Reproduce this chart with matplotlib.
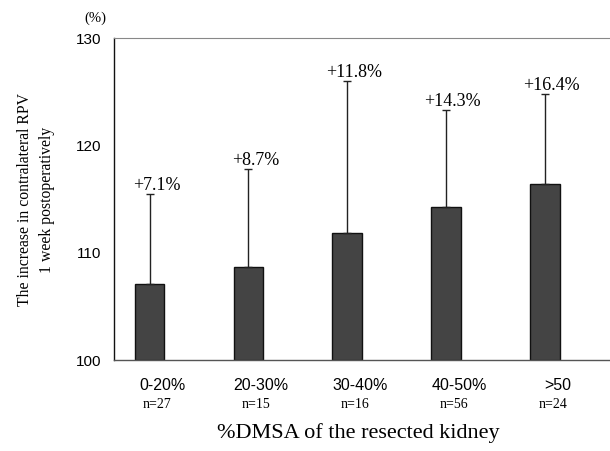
import matplotlib
matplotlib.use("Agg")
import matplotlib.pyplot as plt
from matplotlib.transforms import offset_copy
import numpy as np

categories = ["0-20%", "20-30%", "30-40%", "40-50%", ">50"]
n_labels = ["n=27", "n=15", "n=16", "n=56", "n=24"]
values = [107.1, 108.7, 111.8, 114.3, 116.4]
err_up = [8.4, 9.1, 14.2, 9.0, 8.4]
pct_labels = ["+7.1%", "+8.7%", "+11.8%", "+14.3%", "+16.4%"]
yticks = [100, 110, 120, 130]

fig = plt.figure(figsize=(6.1, 4.51), dpi=100)
ax = fig.add_axes([114/610, 1-360/451, (610-114)/610, (360-38)/451])

x = np.arange(len(categories))
ax.bar(x, [v - 100 for v in values], bottom=100, width=0.3, color="#444444",
       edgecolor="#111111", linewidth=1.0, zorder=2)
ax.errorbar(x, values, yerr=[np.zeros(len(x)), err_up], fmt="none",
            ecolor="#222222", elinewidth=1.0, capsize=3, capthick=1.0, zorder=3)
for xi, v, e, lab in zip(x, values, err_up, pct_labels):
    ax.annotate(lab, (xi + 0.07, v + e), xytext=(0, 0), textcoords="offset points",
                ha="center", va="bottom", family="Liberation Serif", fontsize=13)

ax.set_xlim(-0.36, 4.66)
ax.set_ylim(100, 130)
ax.set_yticks(yticks)
ax.set_yticklabels([str(t) for t in yticks], family="Liberation Sans", fontsize=11)
ax.tick_params(axis="y", length=0, pad=9)
ax.set_xticks([])

trans = ax.get_xaxis_transform()
for xi, lab, nl in zip(x, categories, n_labels):
    ax.text(xi + 0.13, -0.078, lab, transform=trans, ha="center", va="center",
            family="Liberation Sans", fontsize=11.5)
    ax.text(xi + 0.08, -0.137, nl, transform=trans, ha="center", va="center",
            family="Liberation Serif", fontsize=10)

ax.spines["left"].set_color("#111111")
ax.spines["left"].set_linewidth(1.0)
ax.spines["bottom"].set_color("#555555")
ax.spines["bottom"].set_linewidth(1.0)
ax.spines["top"].set_color("#888888")
ax.spines["top"].set_linestyle((0, (1, 1)))
ax.spines["top"].set_linewidth(0.8)
ax.spines["right"].set_visible(False)

fig.text(95/610, 1-18/451, "(%)", ha="center", va="center",
         family="Liberation Serif", fontsize=10.5)
fig.text(25/610, 1-200/451, "The increase in contralateral RPV", rotation=90,
         ha="center", va="center", family="Liberation Serif", fontsize=11.3)
fig.text(47/610, 1-200/451, "1 week postoperatively", rotation=90,
         ha="center", va="center", family="Liberation Serif", fontsize=11.3)
fig.text(358/610, 1-433/451, "%DMSA of the resected kidney", ha="center",
         va="center", family="Liberation Serif", fontsize=16)

fig.savefig("out.png", dpi=100)
